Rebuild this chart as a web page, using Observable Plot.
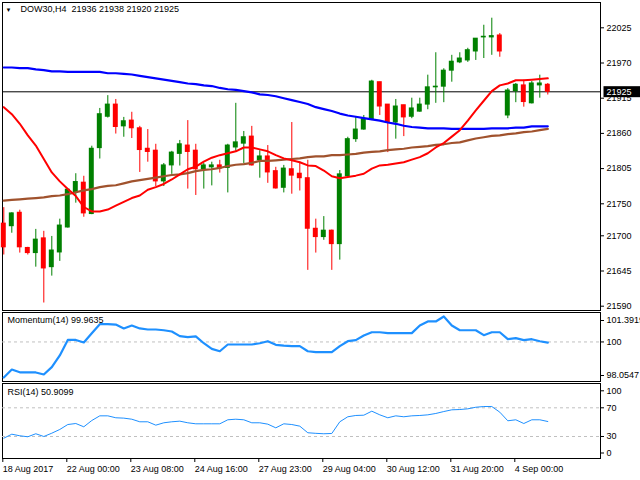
<!DOCTYPE html>
<html><head><meta charset="utf-8">
<script src="https://cdn.jsdelivr.net/npm/d3@7"></script>
<script src="https://cdn.jsdelivr.net/npm/@observablehq/plot@0.6"></script>
<style>
html,body{margin:0;padding:0;background:#fff;}
#chart{position:relative;width:640px;height:480px;overflow:hidden;background:#fff;}
#chart svg{display:block;position:absolute;left:0;overflow:visible;}
</style></head><body><div id="chart"></div>
<script>
const symbol = "DOW30,H4";
const opens  = [21719,21715,21736,21681,21673,21696,21651,21674,21713,21767,21783,21734,21837,21886,21905,21871,21880,21868,21836,21833,21785,21810,21828,21841,21833,21804,21807,21810,21806,21838,21844,21855,21818,21824,21801,21775,21804,21797,21790,21711,21698,21708,21687,21793,21851,21866,21882,21940,21905,21877,21904,21886,21894,21905,21932,21933,21958,21971,21974,21988,22010,22010,22013,21888,21926,21935,21907,21935,21936];
const highs  = [21744,21736,21740,21682,21710,21707,21699,21726,21773,21797,21793,21840,21899,21919,21913,21885,21893,21871,21866,21843,21813,21832,21849,21880,21843,21813,21815,21818,21843,21907,21863,21871,21833,21841,21807,21810,21877,21815,21818,21726,21730,21709,21802,21854,21885,21888,21943,21940,21905,21913,21904,21915,21915,21951,21986,21961,21982,21986,21993,22008,22029,22040,22016,21930,21938,21943,21941,21951,21938];
const lows   = [21670,21704,21673,21670,21651,21595,21637,21660,21712,21751,21729,21733,21820,21884,21859,21854,21852,21799,21815,21777,21777,21796,21809,21773,21763,21773,21778,21798,21767,21832,21813,21809,21790,21782,21773,21767,21765,21770,21646,21673,21693,21646,21662,21792,21846,21865,21880,21888,21830,21851,21855,21883,21893,21897,21907,21908,21940,21969,21971,21974,21977,21982,21979,21883,21908,21901,21906,21915,21920];
const closes = [21682,21735,21682,21673,21694,21649,21677,21716,21772,21784,21735,21836,21890,21905,21870,21879,21868,21834,21831,21785,21810,21830,21843,21831,21804,21810,21810,21805,21841,21846,21854,21810,21824,21799,21774,21805,21794,21790,21711,21698,21708,21687,21796,21851,21866,21882,21941,21902,21877,21902,21885,21899,21905,21932,21933,21958,21972,21977,21990,22008,22011,22012,21988,21927,21936,21909,21938,21938,21925];
const maRed   = [21901,21890,21875,21857,21841,21820,21799,21785,21773,21762,21745,21738,21738,21741,21747,21753,21759,21763,21772,21776,21781,21788,21796,21804,21808,21816,21822,21826,21829,21832,21838,21838,21835,21832,21826,21821,21818,21815,21810,21809,21802,21793,21790,21792,21794,21797,21805,21810,21811,21813,21815,21819,21823,21829,21838,21845,21855,21865,21880,21896,21911,21926,21935,21938,21943,21943,21944,21945,21946];
const maBlue  = [21963,21963,21962,21962,21960,21959,21957,21957,21956,21956,21956,21956,21956,21954,21954,21953,21952,21950,21948,21946,21944,21942,21940,21938,21937,21935,21934,21931,21929,21928,21926,21924,21921,21920,21918,21915,21912,21909,21906,21901,21898,21895,21891,21888,21886,21884,21882,21880,21877,21875,21872,21870,21869,21868,21868,21868,21867,21867,21867,21867,21867,21868,21868,21868,21869,21869,21871,21871,21871];
const maBrown = [21755,21756,21757,21758,21759,21760,21762,21763,21765,21768,21771,21773,21776,21778,21779,21782,21785,21787,21789,21791,21793,21795,21796,21798,21801,21803,21804,21806,21809,21811,21812,21814,21817,21817,21818,21819,21820,21821,21823,21824,21824,21826,21826,21827,21828,21830,21831,21832,21834,21835,21836,21838,21839,21840,21842,21843,21845,21846,21849,21852,21854,21856,21857,21859,21860,21862,21863,21865,21867];
const momentum = [98.0547,98.49,98.34,98.33,98.33,98.22,98.62,99.26,100.11,100.11,99.97,100.48,100.97,100.97,100.95,100.74,100.90,100.74,100.68,100.68,100.64,100.57,100.32,100.26,100.30,99.93,99.62,99.49,99.86,99.86,99.86,99.86,99.93,100.04,99.84,99.80,99.77,99.77,99.49,99.44,99.44,99.44,99.77,100.04,100.10,100.35,100.53,100.53,100.48,100.48,100.48,100.48,100.90,101.12,101.12,101.3919,100.90,100.64,100.64,100.64,100.37,100.53,100.53,100.15,100.21,100.10,100.15,100.04,99.9635];
const rsi = [27.6,33.2,31.0,29.6,33.8,30.0,34.6,39.8,46.7,48.1,43.5,52.3,58.8,58.8,56.1,55.6,54.1,50.5,50.5,45.8,49.1,50.5,51.4,49.1,47.7,47.7,47.7,47.7,53.3,54.1,53.3,49.1,49.1,47.2,42.1,47.7,46.7,44.4,35.2,34.4,33.8,34.2,50.5,57.5,59.3,59.7,65.3,60.2,56.1,58.8,57.5,58.8,59.3,60.2,62.1,64.8,67.2,67.6,68.6,70.8,71.8,71.8,63.9,51.9,53.3,48.1,53.3,53.3,50.9099];
const priceTicks = [22025,21970,21915,21860,21805,21750,21700,21645,21590];
const timeTickBars = [0,8,16,24,32,40,48,56,64];
const timeTickLabels = ["18 Aug 2017","22 Aug 00:00","23 Aug 08:00","24 Aug 16:00","27 Aug 23:00","29 Aug 04:00","30 Aug 12:00","31 Aug 20:00","4 Sep 00:00"];
const momentumTop = [101.3919], momentumMid = [100], momentumBottom = [98.0547];
const rsiTop = [100], rsiMid = [70, 30], rsiBottom = [0];
const rsiLevels = [70, 30];

const FONT = "'Liberation Sans', Arial, sans-serif";
const BULL = "#008000", BEAR = "#ff0000";
const n = closes.length;
const bars = opens.map((o, i) => ({i, open: o, high: highs[i], low: lows[i], close: closes[i]}));
const bull = bars.filter(d => d.close >= d.open);
const bear = bars.filter(d => d.close < d.open);
const series = a => a.map((v, i) => ({i, v}));
const xScale = {domain: [0, n - 1], range: [3.3, 3.3 + 8 * (n - 1)], label: null};
const last = bars[n - 1];
const header = `${symbol}  ${last.open} ${last.high} ${last.low} ${last.close}`;
const style = {fontFamily: FONT, fontSize: "9px", background: "white", color: "black", overflow: "visible"};
const fmt = d => String(d);

const main = Plot.plot({
  width: 640, height: 311, marginLeft: 2, marginRight: 40, marginTop: 2, marginBottom: 1,
  style,
  x: {...xScale, axis: null},
  y: {domain: [21590, 22025], range: [305.7, 27.3], label: null},
  marks: [
    Plot.frame({stroke: "black"}),
    Plot.ruleY([last.close], {stroke: "black", strokeWidth: 1}),
    Plot.ruleX(bull, {x: "i", y1: "low", y2: "high", stroke: BULL}),
    Plot.ruleX(bear, {x: "i", y1: "low", y2: "high", stroke: BEAR}),
    Plot.rect(bull, {x1: d => d.i - 0.31, x2: d => d.i + 0.31, y1: "open", y2: "close", fill: BULL, insetTop: -0.5, insetBottom: -0.5}),
    Plot.rect(bear, {x1: d => d.i - 0.31, x2: d => d.i + 0.31, y1: "close", y2: "open", fill: BEAR, insetTop: -0.5, insetBottom: -0.5}),
    Plot.line(series(maBlue), {x: "i", y: "v", stroke: "#0000ff", strokeWidth: 2.2}),
    Plot.line(series(maBrown), {x: "i", y: "v", stroke: "#a0522d", strokeWidth: 2.2}),
    Plot.line(series(maRed), {x: "i", y: "v", stroke: "#ff0000", strokeWidth: 2}),
    Plot.axisY(priceTicks, {anchor: "right", tickSize: 3, tickPadding: 3, tickFormat: fmt, fontSize: 9, label: null}),
    Plot.text([last.close], {y: d => d, frameAnchor: "right", dx: 6, textAnchor: "start", fill: "white", text: fmt, fontSize: 9}),
    Plot.text(["\u25BC"], {frameAnchor: "top-left", dx: 3, dy: 5, lineAnchor: "top", textAnchor: "start", fontSize: 6, text: d => d}),
    Plot.text([header], {frameAnchor: "top-left", dx: 18, dy: 3, lineAnchor: "top", textAnchor: "start", fontSize: 9, text: d => d})
  ]
});

const mom = Plot.plot({
  width: 640, height: 71, marginLeft: 2, marginRight: 40, marginTop: 1, marginBottom: 1,
  style,
  x: {...xScale, axis: null},
  y: {domain: [momentumBottom[0], momentumTop[0]], range: [66, 5], label: null},
  marks: [
    Plot.frame({stroke: "black"}),
    Plot.ruleY(momentumMid, {stroke: "#c0c0c0", strokeDasharray: "3,3"}),
    Plot.line(series(momentum), {x: "i", y: "v", stroke: "#1e90ff", strokeWidth: 2.2}),
    Plot.axisY(momentumTop, {anchor: "right", tickSize: 3, tickPadding: 3, tickFormat: fmt, dy: 4, fontSize: 9, label: null}),
    Plot.axisY(momentumMid, {anchor: "right", tickSize: 3, tickPadding: 3, tickFormat: fmt, fontSize: 9, label: null}),
    Plot.axisY(momentumBottom, {anchor: "right", tickSize: 3, tickPadding: 3, tickFormat: fmt, dy: -2, fontSize: 9, label: null}),
    Plot.text([`Momentum(14) ${momentum[n - 1].toFixed(4)}`], {frameAnchor: "top-left", dx: 5, dy: 4, lineAnchor: "top", textAnchor: "start", fontSize: 9, text: d => d})
  ]
});

const rsiPlot = Plot.plot({
  width: 640, height: 98, marginLeft: 2, marginRight: 40, marginTop: 1, marginBottom: 22,
  style,
  x: {...xScale},
  y: {domain: [0, 100], range: [75.5, 3.8], label: null},
  marks: [
    Plot.frame({stroke: "black"}),
    Plot.ruleY(rsiLevels, {stroke: "#c0c0c0", strokeDasharray: "3,3"}),
    Plot.line(series(rsi), {x: "i", y: "v", stroke: "#1e90ff", strokeWidth: 1}),
    Plot.axisY(rsiTop, {anchor: "right", tickSize: 3, tickPadding: 3, tickFormat: fmt, dy: 4.5, fontSize: 9, label: null}),
    Plot.axisY(rsiMid, {anchor: "right", tickSize: 3, tickPadding: 3, tickFormat: fmt, fontSize: 9, label: null}),
    Plot.axisY(rsiBottom, {anchor: "right", tickSize: 3, tickPadding: 3, tickFormat: fmt, dy: -5, fontSize: 9, label: null}),
    Plot.axisX(timeTickBars, {anchor: "bottom", tickSize: 4, tickPadding: 3, textAnchor: "start", dx: -1, fontSize: 9, label: null,
      tickFormat: d => timeTickLabels[timeTickBars.indexOf(d)]}),
    Plot.text([`RSI(14) ${rsi[n - 1].toFixed(4)}`], {frameAnchor: "top-left", dx: 5, dy: 5, lineAnchor: "top", textAnchor: "start", fontSize: 9, text: d => d})
  ]
});

const root = document.getElementById("chart");
main.style.top = "0px"; mom.style.top = "311px"; rsiPlot.style.top = "382px";
root.append(main, mom, rsiPlot);

// black box behind the current-price label
d3.select(main).selectAll('g[fill="white"] text').each(function () {
  const b = this.getBBox();
  d3.select(this.parentNode).insert("rect", "text")
    .attr("transform", this.getAttribute("transform"))
    .attr("x", b.x - 3).attr("y", b.y - 0.5)
    .attr("width", 60).attr("height", b.height + 1)
    .attr("fill", "black");
});
</script></body></html>
